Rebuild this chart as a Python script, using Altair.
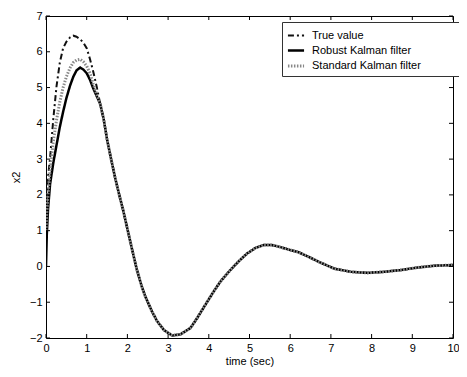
import altair as alt
import pandas as pd

t = [0, 0.02, 0.05, 0.1, 0.18, 0.26, 0.34, 0.42, 0.5, 0.59, 0.67, 0.75, 0.84, 0.92, 1.0,
     1.08, 1.16, 1.25, 1.33, 1.42, 1.5, 1.6, 1.7, 1.8, 1.9, 2.0, 2.1, 2.23, 2.35, 2.44,
     2.6, 2.73, 2.9, 3.1, 3.3, 3.55, 3.71, 3.9, 4.12, 4.3, 4.53, 4.74, 4.94, 5.15, 5.35,
     5.55, 5.76, 6.0, 6.2, 6.45, 6.7, 7.08, 7.49, 7.9, 8.31, 8.72, 9.13, 9.54, 10]

robust = [0.0, 0.9, 1.6, 2.3, 2.9, 3.4, 3.9, 4.32, 4.7, 5.05, 5.3, 5.48, 5.56, 5.5, 5.4,
          5.22, 4.98, 4.75, 4.55, 4.1, 3.55, 3.0, 2.47, 2.0, 1.55, 1.05, 0.55, -0.08, -0.55, -0.84,
          -1.25, -1.53, -1.78, -1.93, -1.9, -1.72, -1.45, -1.1, -0.7, -0.4, -0.1, 0.15, 0.36, 0.52, 0.6,
          0.6, 0.54, 0.46, 0.4, 0.27, 0.13, -0.06, -0.15, -0.18, -0.15, -0.1, -0.03, 0.02, 0.04]

true_early = [1.5, 2.0, 2.5, 3.03, 4.13, 5.05, 5.7, 6.1, 6.28, 6.4, 6.45, 6.42, 6.35, 6.25, 6.1,
              5.8, 5.45, 5.0, 4.55]
standard_early = [1.0, 1.5, 2.0, 2.7, 3.5, 4.1, 4.6, 5.0, 5.3, 5.55, 5.7, 5.77, 5.79, 5.72, 5.6,
                  5.4, 5.1, 4.8, 4.55]

true_vals = true_early + robust[len(true_early):]
standard = standard_early + robust[len(standard_early):]

series = ["True value", "Robust Kalman filter", "Standard Kalman filter"]
x_ticks = list(range(0, 11))
y_ticks = list(range(-2, 8))

rows = []
for name, vals in zip(series, [true_vals, robust, standard]):
    for ti, v in zip(t, vals):
        rows.append({"time": ti, "x2": v, "series": name})
df = pd.DataFrame(rows)

W, H = 407, 322
font = "Liberation Sans"

xs = alt.Scale(domain=[0, 10], nice=False)
ys = alt.Scale(domain=[-2, 7], nice=False)

x_axis = alt.Axis(values=x_ticks, title="time (sec)", grid=False, ticks=False,
                  domain=False, labelPadding=4, titlePadding=2, format="d",
                  labelOverlap=False, labelFlush=False)
y_axis = alt.Axis(values=y_ticks, title="x2", grid=False, ticks=False,
                  domain=False, labelPadding=4, titlePadding=8, format="d",
                  labelOverlap=False, labelFlush=False)

pad = "\u2800" * 5

lines = alt.Chart(df).mark_line(clip=True).encode(
    x=alt.X("time:Q", scale=xs, axis=x_axis, title="time (sec)"),
    y=alt.Y("x2:Q", scale=ys, axis=y_axis, title="x2"),
    color=alt.Color("series:N", sort=series,
                    scale=alt.Scale(domain=series, range=["#111111", "#000000", "#888888"]),
                    legend=alt.Legend(title=None, orient="none", legendX=236, legendY=6,
                                      strokeColor="#333333", padding=4, fillColor="white",
                                      symbolType="stroke", symbolSize=260,
                                      labelFont=font, labelFontSize=11, rowPadding=0,
                                      labelOffset=6, labelLimit=300,
                                      labelExpr=f"datum.label + '{pad}'")),
    strokeDash=alt.StrokeDash("series:N", sort=series,
                              scale=alt.Scale(domain=series, range=[[6, 3, 2, 3], [1, 0], [1.5, 1.5]])),
    strokeWidth=alt.StrokeWidth("series:N", sort=series,
                                scale=alt.Scale(domain=series, range=[2, 3, 1])),
    order=alt.Order("time:Q"),
    detail="series:N",
)

xt = pd.DataFrame({"v": x_ticks})
yt = pd.DataFrame({"v": y_ticks})

xb = alt.Chart(xt).mark_rule(color="black", strokeWidth=1).encode(
    x=alt.X("v:Q", scale=xs, axis=x_axis, title="time (sec)"), y=alt.value(H), y2=alt.value(H - 4))
xtop = alt.Chart(xt).mark_rule(color="black", strokeWidth=1).encode(
    x=alt.X("v:Q", scale=xs, axis=x_axis, title="time (sec)"), y=alt.value(0), y2=alt.value(4))
yl = alt.Chart(yt).mark_rule(color="black", strokeWidth=1).encode(
    y=alt.Y("v:Q", scale=ys, axis=y_axis, title="x2"), x=alt.value(0), x2=alt.value(4))
yr = alt.Chart(yt).mark_rule(color="black", strokeWidth=1).encode(
    y=alt.Y("v:Q", scale=ys, axis=y_axis, title="x2"), x=alt.value(W), x2=alt.value(W - 4))

chart = alt.layer(lines, xb, xtop, yl, yr).properties(
    width=W, height=H,
    autosize=alt.AutoSizeParams(type="none"),
    padding={"left": 38, "top": 8, "right": 6, "bottom": 31},
).configure_view(
    stroke="black", strokeWidth=1
).configure_axis(
    labelFont=font, titleFont=font, labelFontSize=11, titleFontSize=11,
    labelColor="black", titleColor="black", titleFontWeight="normal"
)

chart.save("out.html", embed_options={"renderer": "svg", "actions": False})
